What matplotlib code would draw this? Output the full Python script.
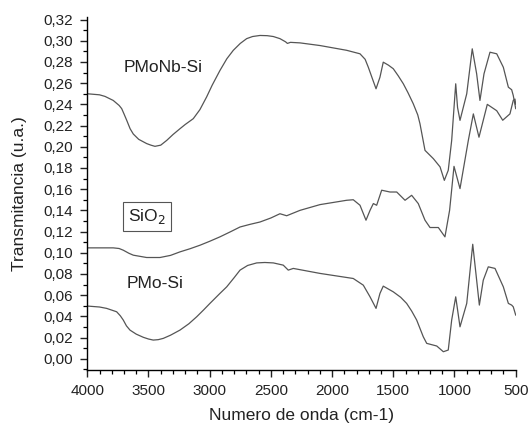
import matplotlib
matplotlib.use("Agg")
import matplotlib.pyplot as plt
from matplotlib.ticker import MultipleLocator, FuncFormatter

plt.rcParams['font.family'] = ['Liberation Sans', 'DejaVu Sans']

# PMoNb-Si (top)
wn_pmonb = [4000, 3900, 3855, 3788, 3740, 3719, 3700, 3678, 3650, 3624, 3580, 3515, 3480,
            3447, 3400, 3351, 3300, 3243, 3200, 3134, 3080, 3025, 2980, 2916, 2860, 2807,
            2750, 2698, 2650, 2589, 2530, 2480, 2426, 2380, 2365, 2340, 2262, 2099, 1881,
            1772, 1730, 1704, 1670, 1641, 1609, 1582, 1540, 1500, 1460, 1418, 1380, 1337,
            1300, 1282, 1241, 1173, 1118, 1083, 1051, 1023, 990, 975, 955, 900, 855, 819,
            792, 759, 710, 655, 601, 560, 533, 520, 500]
t_pmonb = [0.250, 0.249, 0.2475, 0.2437, 0.239, 0.236, 0.231, 0.225, 0.217, 0.212, 0.207,
           0.203, 0.2015, 0.2004, 0.2015, 0.206, 0.2115, 0.217, 0.221, 0.2265, 0.235,
           0.247, 0.258, 0.272, 0.283, 0.291, 0.2975, 0.302, 0.304, 0.305, 0.3048, 0.304,
           0.302, 0.299, 0.2975, 0.2985, 0.298, 0.2955, 0.291, 0.2877, 0.2825, 0.275,
           0.264, 0.2547, 0.2656, 0.2798, 0.277, 0.2736, 0.267, 0.2594, 0.251, 0.2406,
           0.230, 0.2217, 0.1966, 0.1888, 0.181, 0.1683, 0.1778, 0.206, 0.2594, 0.237,
           0.2249, 0.250, 0.2924, 0.2688, 0.2437, 0.2688, 0.2892, 0.2877, 0.275, 0.2562,
           0.2538, 0.2484, 0.236]

# SiO2 (middle)
wn_sio2 = [4000, 3788, 3740, 3706, 3660, 3624, 3515, 3406, 3320, 3243, 3160, 3079, 3000,
           2916, 2830, 2752, 2670, 2589, 2500, 2426, 2371, 2262, 2099, 1881, 1827, 1772,
           1723, 1690, 1663, 1636, 1595, 1527, 1472, 1404, 1350, 1296, 1241, 1200, 1132,
           1078, 1040, 1004, 955, 887, 846, 800, 732, 655, 606, 547, 520, 506, 500]
t_sio2 = [0.1046, 0.1046, 0.1040, 0.1024, 0.0995, 0.0977, 0.0955, 0.0955, 0.0975, 0.1008,
          0.1038, 0.1071, 0.1108, 0.115, 0.1198, 0.1243, 0.1268, 0.129, 0.1328, 0.1368,
          0.1349, 0.140, 0.1454, 0.1495, 0.150, 0.1448, 0.1307, 0.140, 0.1464, 0.1448,
          0.159, 0.1573, 0.1573, 0.1495, 0.1542, 0.1464, 0.1307, 0.1238, 0.1238, 0.115,
          0.140, 0.1815, 0.1605, 0.206, 0.231, 0.209, 0.240, 0.234, 0.225, 0.231, 0.2437,
          0.245, 0.240]

# PMo-Si (bottom)
wn_pmo = [4000, 3900, 3842, 3760, 3730, 3706, 3680, 3651, 3600, 3542, 3500, 3461, 3420,
          3379, 3320, 3243, 3170, 3106, 3050, 2998, 2971, 2920, 2861, 2800, 2752, 2690,
          2616, 2550, 2480, 2399, 2358, 2317, 2099, 1827, 1745, 1690, 1641, 1609, 1582,
          1500, 1440, 1391, 1350, 1309, 1255, 1227, 1145, 1091, 1051, 1023, 990, 955, 900,
          851, 819, 797, 765, 724, 669, 601, 560, 533, 520, 500]
t_pmo = [0.0497, 0.0488, 0.0475, 0.0443, 0.0405, 0.0365, 0.031, 0.027, 0.0232, 0.0202,
         0.0186, 0.0176, 0.0180, 0.0192, 0.0222, 0.027, 0.0330, 0.0396, 0.0460, 0.0522,
         0.0553, 0.0612, 0.0678, 0.0765, 0.0836, 0.0880, 0.0904, 0.0908, 0.0904, 0.0883,
         0.0836, 0.0852, 0.0805, 0.0757, 0.0694, 0.0584, 0.0475, 0.0616, 0.0685, 0.0631,
         0.0580, 0.0522, 0.0450, 0.0365, 0.0207, 0.0145, 0.012, 0.0066, 0.0082, 0.0365,
         0.0584, 0.0301, 0.0522, 0.108, 0.0741, 0.0506, 0.0741, 0.0867, 0.0852, 0.0678,
         0.0522, 0.0506, 0.049, 0.0412]

fig = plt.figure(figsize=(5.28, 4.24), dpi=100)
ax = fig.add_axes([0.1653, 0.1267, 0.8114, 0.8334])

line_kw = dict(color='#555555', lw=0.9)
ax.plot(wn_pmonb, t_pmonb, **line_kw)
ax.plot(wn_sio2, t_sio2, **line_kw)
ax.plot(wn_pmo, t_pmo, **line_kw)

ax.set_xlim(4000, 500)
ax.set_ylim(-0.0109, 0.3225)

ax.xaxis.set_major_locator(MultipleLocator(500))
ax.xaxis.set_minor_locator(MultipleLocator(100))
ax.yaxis.set_major_locator(MultipleLocator(0.02))
ax.yaxis.set_minor_locator(MultipleLocator(0.01))
ax.yaxis.set_major_formatter(FuncFormatter(lambda v, p: f"{v:.2f}".replace('.', ',').replace('-0,00', '0,00')))

for s in ['top', 'right']:
    ax.spines[s].set_visible(False)
for s in ['left', 'bottom']:
    ax.spines[s].set_linewidth(1.0)

ax.tick_params(which='major', direction='out', length=5, width=1.0, labelsize=11,
               colors='#222222', pad=5)
ax.tick_params(which='minor', direction='out', length=3, width=0.9)

ax.set_xlabel('Numero de onda (cm-1)', fontsize=12.5, color='#222222', labelpad=7)
ax.set_ylabel('Transmitancia (u.a.)', fontsize=12.5, color='#222222', labelpad=12)

ax.text(3382, 0.2748, 'PMoNb-Si', fontsize=12.5, ha='center', va='center', color='#222222')
ax.text(3512, 0.134, 'SiO$_2$', fontsize=12.5, ha='center', va='center', color='#222222',
        bbox=dict(boxstyle='square,pad=0.3', fc='white', ec='#555555', lw=0.8))
ax.text(3447, 0.071, 'PMo-Si', fontsize=12.5, ha='center', va='center', color='#222222')

fig.savefig('out.png', dpi=100)
